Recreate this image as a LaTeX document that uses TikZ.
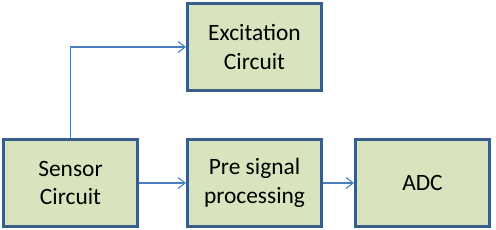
\documentclass[tikz,border=0pt]{standalone}
\usepackage{fontspec}
\setmainfont{Carlito}
\usetikzlibrary{arrows.meta,positioning}
\definecolor{boxfill}{HTML}{D7E4BD}
\definecolor{boxline}{HTML}{385D8A}
\definecolor{arrline}{HTML}{4A7EBB}

\begin{document}
\begin{tikzpicture}[
  block/.style={draw=boxline, fill=boxfill, line width=3bp, align=center,
    minimum width=134bp, minimum height=87bp, inner sep=2pt,
    font=\fontsize{23.5}{28.5}\selectfont},
  arr/.style={-{Straight Barb[length=7bp,width=11bp]}, draw=arrline, line width=1.1bp}
]
\useasboundingbox (0,0) rectangle (496bp,-230bp);

\node[block] (sensor) at (70.5bp,-183bp) {Sensor\\Circuit};
\node[block, right=47bp of sensor] (pre) {Pre signal\\processing};
\node[block, right=31bp of pre] (adc) {ADC};

% excitation sits above the pre-processing stage
\node[block, above=46bp of pre] (excite) {Excitation\\Circuit};

\draw[arr] (sensor) -- (pre);
\draw[arr] (pre) -- (adc);
\draw[arr] (sensor.north) |- (excite.west);

\end{tikzpicture}
\end{document}
